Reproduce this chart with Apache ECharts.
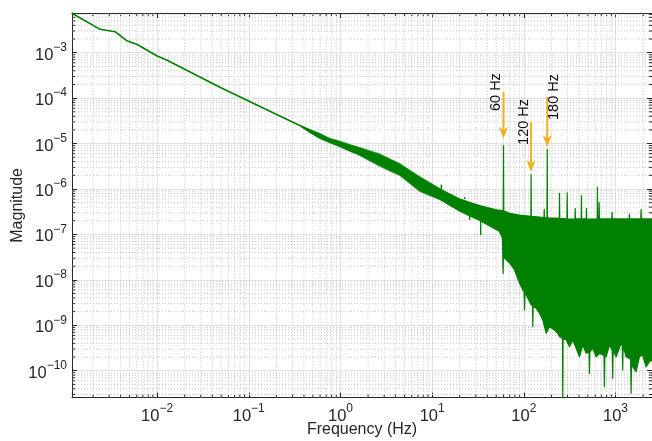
<!DOCTYPE html>
<html>
<head>
<meta charset="utf-8">
<script src="https://cdn.jsdelivr.net/npm/echarts@6/dist/echarts.min.js"></script>
<style>html,body{margin:0;padding:0;background:#fff}#c{width:652px;height:441px}</style>
</head>
<body>
<div id="c"></div>
<script>
// ---------------- data ----------------
const xRange = [0.00118, 2500];          // Hz
const yRange = [2.55e-11, 7.48e-3];      // magnitude
const xTickExp = [-2, -1, 0, 1, 2, 3];   // tick labels 10^n
const yTickExp = [-10, -9, -8, -7, -6, -5, -4, -3];

// clean low-frequency part of the spectrum [Hz, magnitude]
const lowFreqLine = [
  [0.00118, 7.37e-3], [0.00239, 3.27e-3], [0.00348, 2.90e-3], [0.00466, 1.84e-3],
  [0.0060, 1.53e-3], [0.0099, 8.59e-4], [0.0127, 6.90e-4], [0.0484, 1.73e-4],
  [0.218, 4.05e-5], [0.360, 2.50e-5]
];

// noisy band below ~55 Hz: shared frequencies, upper and lower extent
const lowBandFreq  = [0.360, 0.463, 0.595, 0.765, 0.983, 1.263, 1.623, 2.085, 2.68, 3.44, 4.43,
                      5.69, 7.31, 9.39, 12.07, 15.51, 19.93, 25.62, 32.92, 42.30, 54.37];
const lowBandUpper = [2.58e-5, 2.09e-5, 1.71e-5, 1.33e-5, 1.16e-5, 9.8e-6, 8.40e-6, 7.14e-6, 6.10e-6, 4.76e-6, 3.73e-6,
                      2.69e-6, 1.93e-6, 1.43e-6, 1.05e-6, 8.08e-7, 6.24e-7, 5.25e-7, 4.45e-7, 3.91e-7, 3.45e-7];
const lowBandLower = [2.42e-5, 1.71e-5, 1.26e-5, 1.02e-5, 8.27e-6, 6.62e-6, 5.32e-6, 4.05e-6, 3.10e-6, 2.44e-6, 1.93e-6,
                      1.29e-6, 8.59e-7, 7.01e-7, 5.73e-7, 4.25e-7, 3.16e-7, 2.49e-7, 1.97e-7, 1.49e-7, 1.13e-7];

// narrow single-bin lines inside the low band [Hz, from, to]
const lowBandSpikes = [[12.6, 1.0e-6, 1.25e-6], [25.6, 2.6e-7, 2.08e-7], [33.8, 2.0e-7, 9.7e-8], [22.6, 6.0e-7, 6.6e-7]];

// upper edge of the band above ~55 Hz, with the narrow peaks [Hz, magnitude]
const upperEdge = [
  [54.37, 3.45e-7],
  [59.6, 3.3e-7], [60, 8.97e-6], [60.4, 3.3e-7],
  [69.9, 2.92e-7], [89.8, 2.67e-7],
  [119.4, 2.5e-7], [120, 2.10e-6], [120.6, 2.5e-7],
  [148.3, 2.42e-7],
  [166, 2.35e-7], [167, 3.57e-7], [168, 2.35e-7],
  [179, 2.3e-7], [180, 7.48e-6], [181, 2.3e-7],
  [216, 2.3e-7],
  [243.5, 2.26e-7], [245, 8.04e-7], [246.5, 2.26e-7],
  [295, 2.2e-7], [297, 8.28e-7], [299, 2.2e-7],
  [314.7, 2.18e-7],
  [361, 2.2e-7], [363, 3.76e-7], [365, 2.2e-7],
  [422.5, 2.2e-7], [425, 7.12e-7], [427.5, 2.2e-7],
  [479, 2.2e-7], [482, 3.76e-7], [485, 2.2e-7],
  [519.6, 2.18e-7],
  [631, 2.2e-7], [635, 1.09e-6], [639, 2.2e-7],
  [659, 2.2e-7], [663, 4.99e-7], [667, 2.2e-7],
  [757, 2.2e-7],
  [912, 2.2e-7], [918, 3.07e-7], [924, 2.2e-7],
  [1103, 2.2e-7],
  [1408, 2.2e-7], [1418, 2.81e-7], [1428, 2.2e-7],
  [1888, 2.2e-7], [1900, 3.57e-7], [1912, 2.2e-7],
  [2500, 2.2e-7]
];

// lower edge of the band above ~55 Hz, with the narrow dips [Hz, magnitude]
const lowerEdge = [
  [54.37, 1.13e-7],
  [58.5, 8.34e-8], [59.4, 1.39e-8], [60.2, 5.85e-8],
  [61.6, 3.03e-8], [69.9, 2.35e-8], [79.2, 1.65e-8], [89.8, 8.40e-9], [97.5, 5.98e-9],
  [100.5, 5.5e-9], [101.8, 2.17e-9], [103, 5.3e-9],
  [106.2, 4.64e-9], [120.4, 2.79e-9],
  [124.3, 2.7e-9], [125.3, 9.31e-10], [126.3, 2.6e-9],
  [136.5, 2.36e-9], [148.3, 1.84e-9], [161.1, 1.31e-9], [175.4, 6.66e-10],
  [190.5, 9.31e-10], [216, 7.87e-10], [234.6, 6.66e-10], [244.8, 5.61e-10],
  [264, 5.3e-10], [266, 2.0e-11], [268, 5.1e-10],
  [289.7, 4.74e-10], [314.7, 3.38e-10], [341.9, 4.74e-10], [372.2, 3.11e-10],
  [404.4, 2.03e-10], [439.2, 3.68e-10], [478.4, 2.42e-10],
  [514, 2.6e-10], [519.6, 8.77e-11], [525, 2.6e-10],
  [564.4, 3.11e-10], [614.8, 2.03e-10], [667.6, 2.42e-10], [725.5, 2.22e-10],
  [749, 2.2e-10], [757, 4.45e-11], [765, 2.2e-10],
  [790, 2.03e-10], [858, 3.68e-10],
  [922, 2.8e-10], [932, 6.81e-11], [942, 2.8e-10],
  [1015, 2.03e-10], [1151, 4.01e-10],
  [1185, 3.5e-10], [1198, 1.04e-10], [1211, 3.5e-10],
  [1305, 2.03e-10],
  [1463, 1.8e-10], [1479, 3.18e-11], [1495, 1.8e-10],
  [1540, 1.22e-10], [1677, 9.51e-11], [1821, 2.03e-10], [1978, 2.22e-10],
  [2154, 1.22e-10], [2340, 1.58e-10], [2500, 1.7e-10]
];

// annotations (text arrows)
const annFreq = [60, 120, 180];
const annTail = [1.36e-4, 2.99e-5, 1.06e-4];
const annTip  = [1.28e-5, 2.37e-6, 8.40e-6];
const annText = ['60 Hz', '120 Hz', '180 Hz'];

// ---------------- layout / style ----------------
const annSide = [-1, -1, 1];
const GREEN = '#008000', ORANGE = '#EDB120', AXIS = '#262626';
const FONT = '"Liberation Sans", Arial, Helvetica, sans-serif';
const L = Math.log10;
const X0 = L(xRange[0]), X1 = L(xRange[1]), Y0 = L(yRange[0]), Y1 = L(yRange[1]);

const minorX = [], minorY = [];
for (let e = -4; e <= 4; e++) for (let k = 2; k <= 9; k++) { const v = e + L(k); if (v > X0 && v < X1) minorX.push([v, Y0]); }
for (let e = -12; e <= -1; e++) for (let k = 2; k <= 9; k++) { const v = e + L(k); if (v > Y0 && v < Y1) minorY.push([X0, v]); }

function fmt(list) {
  return function (v) {
    const r = Math.round(v);
    if (Math.abs(v - r) > 1e-6 || list.indexOf(r) < 0) return '';
    return '{b|10}{s|' + (r < 0 ? '\u2212' : '') + Math.abs(r) + '}';
  };
}
const rich = {
  b: { fontSize: 16.5, fontFamily: FONT, color: AXIS, verticalAlign: 'bottom', padding: [5, 0, 0, 0] },
  s: { fontSize: 12, fontFamily: FONT, color: AXIS, verticalAlign: 'top' }
};

function axisCommon(min, max, list) {
  return {
    type: 'value', min: min, max: max, minInterval: 1, maxInterval: 1,
    axisLine: { show: true, onZero: false, lineStyle: { color: AXIS, width: 1 } },
    axisTick: { show: true, inside: true, length: 5, lineStyle: { color: AXIS, width: 1 } },
    axisLabel: { show: true, formatter: fmt(list), rich: rich, interval: 0, showMinLabel: false, showMaxLabel: false, margin: 5 },
    splitLine: { show: true, lineStyle: { color: '#e2e2e2', width: 1 } }
  };
}

const xBottom = Object.assign(axisCommon(X0, X1, xTickExp), {
  position: 'bottom', name: 'Frequency (Hz)', nameLocation: 'middle', nameGap: 23.5, nameMoveOverlap: false,
  nameTextStyle: { fontSize: 16, fontFamily: FONT, color: AXIS, verticalAlign: 'top' }
});
const xTop = Object.assign(axisCommon(X0, X1, xTickExp), { position: 'top', axisLabel: { show: false }, splitLine: { show: false } });
const yLeft = Object.assign(axisCommon(Y0, Y1, yTickExp), {
  position: 'left', name: 'Magnitude', nameLocation: 'middle', nameGap: 46, nameRotate: 90, nameMoveOverlap: false,
  nameTextStyle: { fontSize: 16, fontFamily: FONT, color: AXIS }
});
const yRight = Object.assign(axisCommon(Y0, Y1, yTickExp), { position: 'right', axisLabel: { show: false }, splitLine: { show: false } });

function clipRect(params) {
  const c = params.coordSys;
  return { type: 'rect', shape: { x: c.x, y: c.y, width: c.width, height: c.height } };
}

const option = {
  animation: false,
  backgroundColor: '#fff',
  grid: { left: 72, right: 0, top: 13, bottom: 43.3, containLabel: false, outerBoundsMode: 'none' },
  xAxis: [xBottom, xTop],
  yAxis: [yLeft, yRight],
  series: [
    { // minor grid + minor ticks along x
      type: 'custom', silent: true, z: 1, xAxisIndex: 0, yAxisIndex: 0, data: minorX,
      renderItem: function (params, api) {
        const v = api.value(0);
        const a = api.coord([v, Y0]), b = api.coord([v, Y1]);
        return { type: 'group', children: [
          { type: 'line', shape: { x1: a[0], y1: a[1], x2: b[0], y2: b[1] }, style: { stroke: '#c4c4c4', lineWidth: 1, lineDash: [1, 2] } },
          { type: 'line', shape: { x1: a[0], y1: a[1], x2: a[0], y2: a[1] - 3 }, style: { stroke: AXIS, lineWidth: 1 } },
          { type: 'line', shape: { x1: b[0], y1: b[1], x2: b[0], y2: b[1] + 3 }, style: { stroke: AXIS, lineWidth: 1 } }
        ] };
      }
    },
    { // minor grid + minor ticks along y
      type: 'custom', silent: true, z: 1, xAxisIndex: 0, yAxisIndex: 0, data: minorY,
      renderItem: function (params, api) {
        const v = api.value(1);
        const a = api.coord([X0, v]), b = api.coord([X1, v]);
        return { type: 'group', children: [
          { type: 'line', shape: { x1: a[0], y1: a[1], x2: b[0], y2: b[1] }, style: { stroke: '#c4c4c4', lineWidth: 1, lineDash: [1, 2] } },
          { type: 'line', shape: { x1: a[0], y1: a[1], x2: a[0] + 3, y2: a[1] }, style: { stroke: AXIS, lineWidth: 1 } },
          { type: 'line', shape: { x1: b[0], y1: b[1], x2: b[0] - 3, y2: b[1] }, style: { stroke: AXIS, lineWidth: 1 } }
        ] };
      }
    },
    { // low-frequency clean line
      type: 'line', z: 3, xAxisIndex: 0, yAxisIndex: 0, showSymbol: false, silent: true,
      data: lowFreqLine.map(p => [L(p[0]), L(p[1])]),
      lineStyle: { color: GREEN, width: 1.6 }
    },
    { // noisy band below ~55 Hz: soft fringe + solid core
      type: 'custom', z: 3, silent: true, xAxisIndex: 0, yAxisIndex: 0, data: [[X0, Y0]],
      renderItem: function (params, api) {
        const n = lowBandFreq.length, outer = [], core = [], coreLo = [], outerLo = [];
        for (let i = 0; i < n; i++) {
          const x = L(lowBandFreq[i]), u = L(lowBandUpper[i]), d = L(lowBandLower[i]);
          const mid = (u + d) / 2, frac = 0.7 + 0.25 * i / (n - 1);
          outer.push(api.coord([x, u])); outerLo.push(api.coord([x, d]));
          core.push(api.coord([x, mid + (u - mid) * frac])); coreLo.push(api.coord([x, mid - (mid - d) * frac]));
        }
        return { type: 'group', children: [
          { type: 'polygon', shape: { points: outer.concat(outerLo.reverse()) }, style: { fill: GREEN, opacity: 0.7 } },
          { type: 'polygon', shape: { points: core.concat(coreLo.reverse()) }, style: { fill: GREEN, stroke: GREEN, lineWidth: 0.8 } }
        ] };
      }
    },
    { // narrow lines inside the low band
      type: 'custom', z: 3, silent: true, xAxisIndex: 0, yAxisIndex: 0,
      data: lowBandSpikes.map(s => [L(s[0]), L(s[1]), L(s[2])]),
      renderItem: function (params, api) {
        const a = api.coord([api.value(0), api.value(1)]), b = api.coord([api.value(0), api.value(2)]);
        return { type: 'line', shape: { x1: a[0], y1: a[1], x2: b[0], y2: b[1] }, style: { stroke: GREEN, lineWidth: 1.4 } };
      }
    },
    { // band above ~55 Hz (upper edge -> lower edge)
      type: 'custom', z: 3, silent: true, xAxisIndex: 0, yAxisIndex: 0, data: [[X0, Y0]],
      renderItem: function (params, api) {
        const pts = [];
        upperEdge.forEach(p => pts.push(api.coord([L(p[0]), L(p[1])])));
        for (let i = lowerEdge.length - 1; i >= 0; i--) pts.push(api.coord([L(lowerEdge[i][0]), L(lowerEdge[i][1])]));
        return { type: 'group', clipPath: clipRect(params), children: [
          { type: 'polygon', shape: { points: pts }, style: { fill: GREEN, stroke: GREEN, lineWidth: 1.2, lineJoin: 'round' } }
        ] };
      }
    },
    { // annotation arrows with labels
      type: 'custom', z: 5, silent: true, xAxisIndex: 0, yAxisIndex: 0,
      data: annFreq.map((f, i) => [L(f), L(annTail[i]), L(annTip[i]), i]),
      renderItem: function (params, api) {
        const i = api.value(3);
        const a = api.coord([api.value(0), api.value(1)]);
        const b = api.coord([api.value(0), api.value(2)]);
        const hl = 12, hw = 4.6, notch = 3.5;
        return { type: 'group', children: [
          { type: 'line', shape: { x1: a[0], y1: a[1], x2: b[0], y2: b[1] - hl + notch }, style: { stroke: ORANGE, lineWidth: 2 } },
          { type: 'polygon', shape: { points: [[b[0], b[1]], [b[0] - hw, b[1] - hl], [b[0], b[1] - hl + notch], [b[0] + hw, b[1] - hl]] }, style: { fill: ORANGE } },
          { type: 'text', x: a[0] + annSide[i] * 7.2, y: a[1], rotation: Math.PI / 2,
            style: { text: annText[i], fontSize: 14.5, fontFamily: FONT, fill: '#111', align: 'center', verticalAlign: 'middle' } }
        ] };
      }
    }
  ]
};

const chart = echarts.init(document.getElementById('c'), null, { renderer: 'canvas', width: 652, height: 441 });
chart.setOption(option);
</script>
</body>
</html>
